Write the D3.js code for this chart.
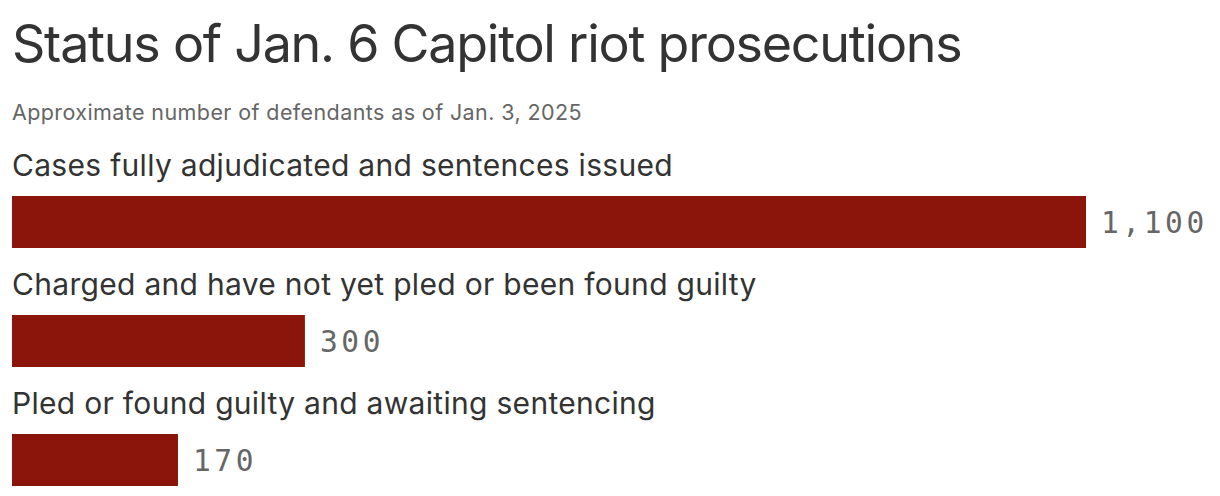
<!DOCTYPE html>
<html>
<head>
<meta charset="utf-8">
<script src="https://cdn.jsdelivr.net/npm/d3@7"></script>
<style>
  body { margin: 0; background: #fff; }
  svg { display: block; }
  .title { font-family: Inter, "Noto Sans", sans-serif; font-size: 52px; fill: #333; letter-spacing: -1.25px; }
  .subtitle { font-family: Inter, "Noto Sans", sans-serif; font-size: 21.5px; fill: #666; letter-spacing: 0.4px; }
  .cat { font-family: Inter, "Noto Sans", sans-serif; font-size: 30px; fill: #333; letter-spacing: 0.3px; }
  .val { font-family: "DejaVu Sans Mono", monospace; font-size: 29.5px; fill: #666; letter-spacing: 3.6px; }
</style>
</head>
<body>
<svg id="chart" width="1220" height="496"></svg>
<script>
var categories = [
  "Cases fully adjudicated and sentences issued",
  "Charged and have not yet pled or been found guilty",
  "Pled or found guilty and awaiting sentencing"
];
var values = [1100, 300, 170];

var W = 1220, H = 496;
var margin = {left: 12, right: 134};
var svg = d3.select("#chart");

svg.append("text").attr("class", "title").attr("x", 12).attr("y", 62)
  .text("Status of Jan. 6 Capitol riot prosecutions");
svg.append("text").attr("class", "subtitle").attr("x", 12).attr("y", 120)
  .text("Approximate number of defendants as of Jan. 3, 2025");

var x = d3.scaleLinear().domain([0, 1100]).range([margin.left, W - margin.right]);
// each row = label + bar
var y = d3.scaleBand().domain(categories).range([141, 498]);
var barH = 52;

var rows = svg.selectAll("g.row").data(categories).enter().append("g")
  .attr("class", "row")
  .attr("transform", function (d) { return "translate(0," + y(d) + ")"; });

rows.append("text").attr("class", "cat").attr("x", 12).attr("y", 35)
  .text(function (d) { return d; });

rows.append("rect")
  .attr("x", x(0))
  .attr("y", 55)
  .attr("width", function (d, i) { return x(values[i]) - x(0); })
  .attr("height", barH)
  .attr("fill", "#8b150b");

rows.append("text").attr("class", "val")
  .attr("x", function (d, i) { return x(values[i]) + 15; })
  .attr("y", 55 + barH / 2)
  .attr("dy", "0.36em")
  .text(function (d, i) { return d3.format(",")(values[i]); });
</script>
</body>
</html>
